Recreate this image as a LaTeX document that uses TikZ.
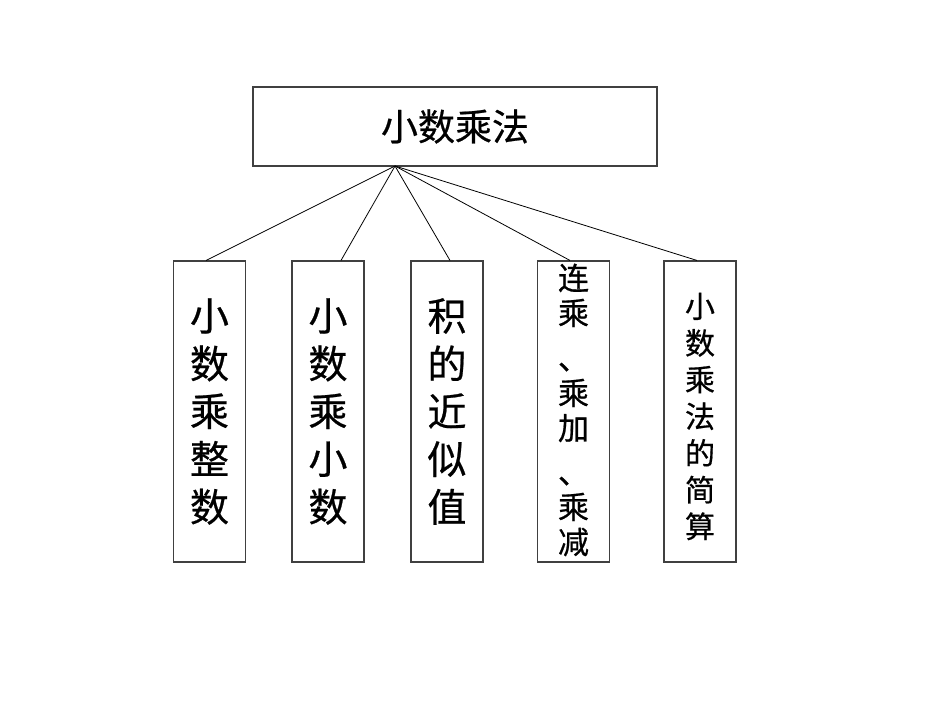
\documentclass[tikz,border=0pt]{standalone}
\usepackage{fontspec}
\setmainfont{Noto Sans CJK SC}
\newfontfamily\cjkmed[FakeBold=0.6]{Noto Sans CJK SC}
\usetikzlibrary{positioning}

\tikzset{
  topbox/.style={draw=black!75, line width=1.1pt, minimum width=404pt, minimum height=79pt, inner sep=0pt},
  subbox/.style={draw=black!75, line width=1.1pt, minimum width=72pt, minimum height=301pt, inner sep=0pt, align=center},
  bigtext/.style={font=\cjkmed\fontsize{39}{47.75}\selectfont},
  smalltext/.style={font=\cjkmed\fontsize{30}{36.7}\selectfont},
  link/.style={draw=black, line width=0.8pt}
}

\begin{document}
\begin{tikzpicture}[x=1pt, y=-1pt]
        \useasboundingbox[fill=white] (0,0) rectangle (950,713);

        % Top box
        \node[topbox, font=\cjkmed\fontsize{37}{40}\selectfont] (top) at (455,126.5) {小数乘法};
        \coordinate (hub) at (395,166);

        % Sub boxes
        \node[subbox, bigtext] (b1) at (209.5,411.5) {小\\数\\乘\\整\\数};
        \node[subbox, bigtext] (b2) at (328,411.5) {小\\数\\乘\\小\\数};
        \node[subbox, bigtext] (b3) at (447,411.5) {积\\的\\近\\似\\值};
        \node[subbox] (b4) at (573.5,411.5) {};
        \node[subbox] (b5) at (700,411.5) {};

        % Text of the last two boxes
        \node[font=\cjkmed\fontsize{31}{35}\selectfont, align=center, anchor=north, inner sep=0pt] (t4) at ([yshift=-3pt]b4.north)
          {连\\乘\\[10pt]、\\乘\\加\\[9pt]、\\乘\\减};
        \node[smalltext, align=center, inner sep=0pt] (t5) at ([yshift=-5pt]b5.center) {小\\数\\乘\\法\\的\\简\\算};

        % Connectors
        \draw[link] (hub) -- ([xshift=-3.5pt]b1.north);
        \draw[link] (hub) -- ([xshift=13pt]b2.north);
        \draw[link] (hub) -- ([xshift=3pt]b3.north);
        \draw[link] (hub) -- ([xshift=-3.5pt]b4.north);
        \draw[link] (hub) -- ([xshift=-3pt]b5.north);

    \end{tikzpicture}
\end{document}
